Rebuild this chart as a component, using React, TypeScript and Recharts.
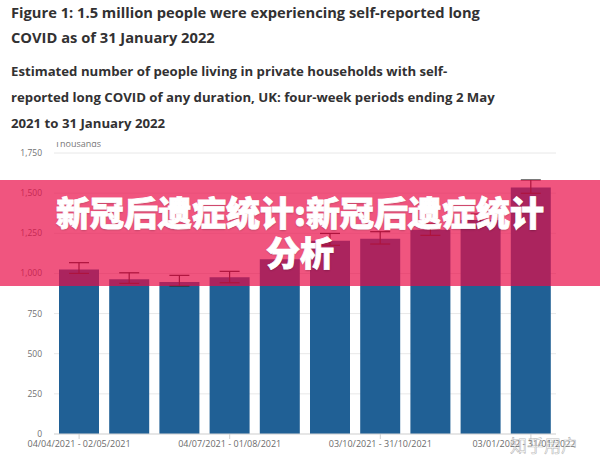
import { BarChart, Bar, XAxis, YAxis, CartesianGrid, ErrorBar } from 'recharts';

// Four-week periods, UK, people with self-reported long COVID (thousands)
const periods = [
  '04/04/2021 - 02/05/2021',
  '09/05/2021 - 06/06/2021',
  '06/06/2021 - 04/07/2021',
  '04/07/2021 - 01/08/2021',
  '08/08/2021 - 05/09/2021',
  '05/09/2021 - 02/10/2021',
  '03/10/2021 - 31/10/2021',
  '08/11/2021 - 06/12/2021',
  '06/12/2021 - 02/01/2022',
  '03/01/2022 - 31/01/2022',
];
const estimates = [1025, 963, 946, 976, 1088, 1204, 1216, 1272, 1332, 1535];
const lowerCI = [1000, 938, 922, 942, 1052, 1175, 1183, 1237, 1295, 1499];
const upperCI = [1067, 1004, 988, 1013, 1124, 1249, 1260, 1308, 1370, 1582];
const yTicks = [0, 250, 500, 750, 1000, 1250, 1500, 1750];

const data = periods.map((period, i) => ({
  period,
  value: estimates[i],
  ci: [estimates[i] - lowerCI[i], upperCI[i] - estimates[i]],
}));

const font = "'Open Sans', 'Noto Sans', sans-serif";

// keep the last label inside the frame, like the source chart does
function PeriodTick(props: any) {
  const { x, y, payload } = props;
  const half = 51;
  const shift = Math.min(0, 575 - (x + half));
  return (
    <text x={x + shift} y={y} dy="0.71em" textAnchor="middle" fill="#6b6b6b" fontSize={9} fontFamily={font}>
      {payload.value}
    </text>
  );
}

export default function App() {
  return (
    <div style={{ position: 'fixed', left: 0, top: 0, width: 600, height: 466, background: '#fff', overflow: 'hidden', fontFamily: font }}>
      <div style={{ position: 'absolute', left: 11, top: 0, width: 580, fontSize: 14.7, lineHeight: '25px', fontWeight: 700, color: '#323132' }}>
        Figure 1: 1.5 million people were experiencing self-reported long
        <br />
        COVID as of 31 January 2022
      </div>
      <div style={{ position: 'absolute', left: 11, top: 58, width: 580, fontSize: 13.2, lineHeight: '26px', fontWeight: 700, color: '#323132' }}>
        Estimated number of people living in private households with self-
        <br />
        reported long COVID of any duration, UK: four-week periods ending 2 May
        <br />
        2021 to 31 January 2022
      </div>

      <div style={{ position: 'absolute', left: 0, top: 130 }}>
        <BarChart width={600} height={336} data={data} margin={{ top: 23, right: 44, bottom: 2, left: 0 }}>
          <CartesianGrid vertical={false} stroke="#e8e8e8" />
          <XAxis
            dataKey="period"
            interval={2}
            height={30}
            tickSize={5}
            tickLine={{ stroke: '#cfcfcf' }}
            axisLine={{ stroke: '#d9d9d9' }}
            tick={<PeriodTick />}
          />
          <YAxis
            width={54}
            domain={[0, 1750]}
            ticks={yTicks}
            tickFormatter={(v: number) => v.toLocaleString('en-GB')}
            axisLine={false}
            tickLine={false}
            tickMargin={6}
            tick={{ fill: '#707071', fontSize: 8.5, fontFamily: font }}
          />
          <Bar dataKey="value" fill="#206095" barSize={40} isAnimationActive={false}>
            <ErrorBar dataKey="ci" width={10} stroke="#2a2a2a" strokeWidth={1.2} />
          </Bar>
        </BarChart>
      </div>

      {/* axis unit label, cut at its top as in the source */}
      <div style={{ position: 'absolute', left: 55, top: 142, height: 9, overflow: 'hidden' }}>
        <div style={{ marginTop: -4, fontSize: 9, lineHeight: '12px', color: '#777' }}>Thousands</div>
      </div>

      {/* banner overlay */}
      <div
        style={{
          position: 'absolute',
          left: 0,
          top: 180,
          width: 600,
          height: 106,
          background: 'rgba(233, 9, 70, 0.69)',
          boxSizing: 'border-box',
          paddingTop: 12,
          textAlign: 'center',
          color: '#fff',
          fontFamily: "'Noto Sans CJK SC', sans-serif",
          fontWeight: 900,
          fontSize: 34,
          lineHeight: '40px',
          WebkitTextStroke: '0.8px #fff',
          textShadow: '0 1px 2px rgba(0,0,0,0.25)',
        }}
      >
        新冠后遗症统计:新冠后遗症统计
        <br />
        分析
      </div>

      <div
        style={{
          position: 'absolute',
          left: 510,
          top: 432,
          fontFamily: "'Noto Sans CJK SC', sans-serif",
          fontSize: 17,
          color: 'rgba(255,255,255,0.55)',
          WebkitTextStroke: '0.6px rgba(120,120,120,0.55)',
        }}
      >
        知乎用户
      </div>
    </div>
  );
}
